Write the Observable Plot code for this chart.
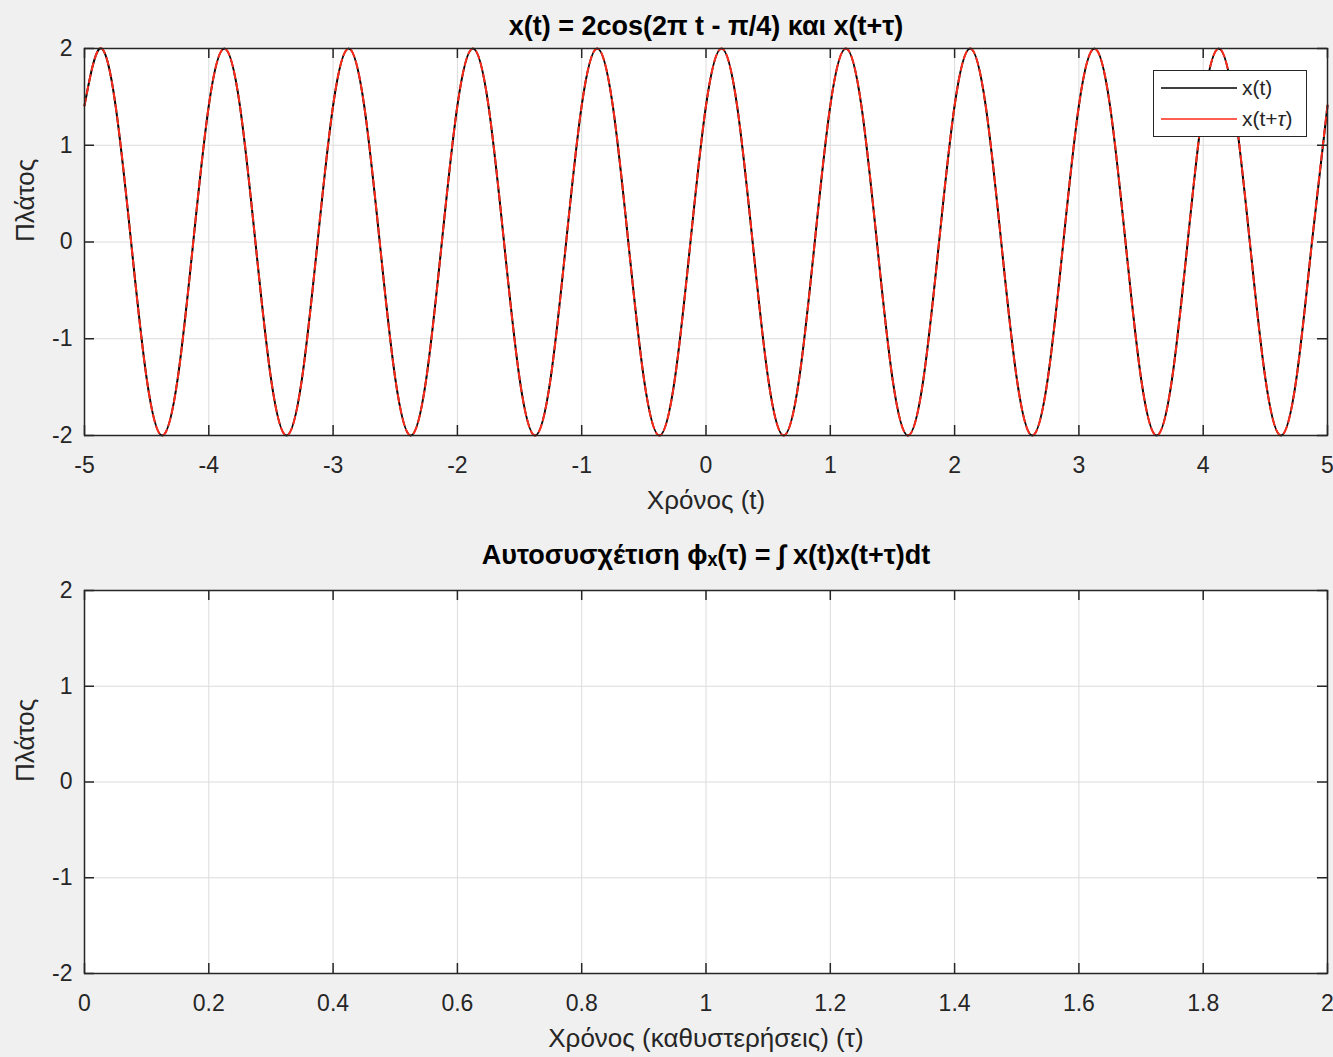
<!DOCTYPE html>
<html>
<head>
<meta charset="utf-8">
<script src="https://cdn.jsdelivr.net/npm/d3@7"></script>
<script src="https://cdn.jsdelivr.net/npm/@observablehq/plot@0.6"></script>
<style>
  body { margin: 0; background: #f0f0f0; }
  #wrap { position: relative; width: 1333px; height: 1057px; font-family: "Liberation Sans", Arial, Helvetica, sans-serif; color: #262626; }
  #top, #bottom { position: absolute; left: 0; }
  #top { top: 0; }
  #bottom { top: 528px; }
  .legend { position: absolute; left: 1153px; top: 70px; width: 152px; height: 65px; background: #fff; border: 1.5px solid #262626; font-size: 21px; }
  .legend .row { position: absolute; left: 0; height: 30px; display: flex; align-items: center; }
  .legend .row svg { margin-left: 7px; margin-right: 5px; }
</style>
</head>
<body>
<div id="wrap">
  <div id="top"></div>
  <div id="bottom"></div>
  <div class="legend">
    <div class="row" style="top:2px"><svg width="76" height="4"><line x1="0" x2="76" y1="2" y2="2" stroke="#000" stroke-width="1.5"/></svg><span>x(t)</span></div>
    <div class="row" style="top:33px"><svg width="76" height="4"><line x1="0" x2="76" y1="2" y2="2" stroke="#ff2a1a" stroke-width="1.5"/></svg><span>x(t+<i>τ</i>)</span></div>
  </div>
</div>
<script>
// ---- data ----
const tSamples = [
  -5, -4.875, -4.75, -4.625, -4.5, -4.375, -4.25, -4.125,
  -4, -3.875, -3.75, -3.625, -3.5, -3.375, -3.25, -3.125,
  -3, -2.875, -2.75, -2.625, -2.5, -2.375, -2.25, -2.125,
  -2, -1.875, -1.75, -1.625, -1.5, -1.375, -1.25, -1.125,
  -1, -0.875, -0.75, -0.625, -0.5, -0.375, -0.25, -0.125,
  0, 0.125, 0.25, 0.375, 0.5, 0.625, 0.75, 0.875,
  1, 1.125, 1.25, 1.375, 1.5, 1.625, 1.75, 1.875,
  2, 2.125, 2.25, 2.375, 2.5, 2.625, 2.75, 2.875,
  3, 3.125, 3.25, 3.375, 3.5, 3.625, 3.75, 3.875,
  4, 4.125, 4.25, 4.375, 4.5, 4.625, 4.75, 4.875,
  5
];
const xValues = [
  1.41, 2, 1.41, 0, -1.41, -2, -1.41, 0,
  1.41, 2, 1.41, 0, -1.41, -2, -1.41, 0,
  1.41, 2, 1.41, 0, -1.41, -2, -1.41, 0,
  1.41, 2, 1.41, 0, -1.41, -2, -1.41, 0,
  1.41, 2, 1.41, 0, -1.41, -2, -1.41, 0,
  1.41, 2, 1.41, 0, -1.41, -2, -1.41, 0,
  1.41, 2, 1.41, 0, -1.41, -2, -1.41, 0,
  1.41, 2, 1.41, 0, -1.41, -2, -1.41, 0,
  1.41, 2, 1.41, 0, -1.41, -2, -1.41, 0,
  1.41, 2, 1.41, 0, -1.41, -2, -1.41, 0,
  1.41
];
const xShiftedValues = [
  1.41, 2, 1.41, 0, -1.41, -2, -1.41, 0,
  1.41, 2, 1.41, 0, -1.41, -2, -1.41, 0,
  1.41, 2, 1.41, 0, -1.41, -2, -1.41, 0,
  1.41, 2, 1.41, 0, -1.41, -2, -1.41, 0,
  1.41, 2, 1.41, 0, -1.41, -2, -1.41, 0,
  1.41, 2, 1.41, 0, -1.41, -2, -1.41, 0,
  1.41, 2, 1.41, 0, -1.41, -2, -1.41, 0,
  1.41, 2, 1.41, 0, -1.41, -2, -1.41, 0,
  1.41, 2, 1.41, 0, -1.41, -2, -1.41, 0,
  1.41, 2, 1.41, 0, -1.41, -2, -1.41, 0,
  1.41
];
const topXTicks = [-5, -4, -3, -2, -1, 0, 1, 2, 3, 4, 5];
const bottomXTicks = [0, 0.2, 0.4, 0.6, 0.8, 1, 1.2, 1.4, 1.6, 1.8, 2];
const yTicks = [-2, -1, 0, 1, 2];
const topTitle = "x(t) = 2cos(2π t - π/4) και x(t+τ)";
const bottomTitle = "Αυτοσυσχέτιση ϕₓ(τ) = ∫ x(t)x(t+τ)dt";
const topXLabel = "Χρόνος (t)";
const bottomXLabel = "Χρόνος (καθυστερήσεις) (τ)";
const yLabel = "Πλάτος";

const FONT = '"Liberation Sans", Arial, Helvetica, sans-serif';
const INK = "#262626";

function axesMarks(xTicks) {
  return [
    Plot.frame({fill: "white", stroke: null}),
    Plot.gridX(xTicks, {x: d => d, stroke: "#dcdcdc", strokeOpacity: 1, strokeWidth: 1}),
    Plot.gridY(yTicks, {y: d => d, stroke: "#dcdcdc", strokeOpacity: 1, strokeWidth: 1}),
  ];
}
function frameMarks(xTicks, plotH, plotW, title, titleDy, xLabel, fmt) {
  const tl = 10;
  return [
    Plot.frame({stroke: INK, strokeWidth: 1.5}),
    Plot.tickX(xTicks, {x: d => d, insetTop: plotH - tl, stroke: INK, strokeWidth: 1.5}),
    Plot.tickX(xTicks, {x: d => d, insetBottom: plotH - tl, stroke: INK, strokeWidth: 1.5}),
    Plot.tickY(yTicks, {y: d => d, insetRight: plotW - tl, stroke: INK, strokeWidth: 1.5}),
    Plot.tickY(yTicks, {y: d => d, insetLeft: plotW - tl, stroke: INK, strokeWidth: 1.5}),
    Plot.axisX(xTicks, {anchor: "bottom", tickSize: 0, tickPadding: 21, label: null, fontSize: 23, tickFormat: fmt, fill: INK}),
    Plot.axisY(yTicks, {anchor: "left", tickSize: 0, tickPadding: 12, label: null, fontSize: 23, tickFormat: d => String(d), fill: INK}),
    Plot.text([title], {text: d => d, frameAnchor: "top", lineAnchor: "middle", dy: titleDy, fontSize: 27, fontWeight: "bold", fill: "#000"}),
    Plot.text([xLabel], {text: d => d, frameAnchor: "bottom", lineAnchor: "middle", dy: 65, fontSize: 26, fill: INK}),
    Plot.text([yLabel], {text: d => d, frameAnchor: "left", lineAnchor: "middle", dx: -59, rotate: -90, fontSize: 26, fill: INK})
  ];
}

const series = tSamples.map((t, i) => ({t, x: xValues[i], xs: xShiftedValues[i]}));

// Top plot
const topPlot = Plot.plot({
  width: 1333, height: 528,
  marginTop: 48, marginBottom: 93, marginLeft: 84, marginRight: 6,
  style: {fontFamily: FONT, fontSize: "23px", color: INK, background: "transparent", overflow: "visible"},
  x: {domain: [-5, 5], axis: null},
  y: {domain: [-2, 2], axis: null},
  marks: [
    ...axesMarks(topXTicks),
    Plot.line(series, {x: "t", y: "x", stroke: "#000", strokeWidth: 2, curve: "natural"}),
    Plot.line(series, {x: "t", y: "xs", stroke: "#ff2a1a", strokeWidth: 2, strokeDasharray: "7,5", curve: "natural"}),
    ...frameMarks(topXTicks, 387, 1243, topTitle, -22, topXLabel, d => String(d))
  ]
});
document.getElementById("top").appendChild(topPlot);

// Bottom plot (empty axes)
const bottomPlot = Plot.plot({
  width: 1333, height: 529,
  marginTop: 62, marginBottom: 84, marginLeft: 84, marginRight: 6,
  style: {fontFamily: FONT, fontSize: "23px", color: INK, background: "transparent", overflow: "visible"},
  x: {domain: [0, 2], axis: null},
  y: {domain: [-2, 2], axis: null},
  marks: [
    ...axesMarks(bottomXTicks),
    ...frameMarks(bottomXTicks, 383, 1243, bottomTitle, -35, bottomXLabel, d => String(+d.toFixed(1)))
  ]
});
document.getElementById("bottom").appendChild(bottomPlot);
</script>
</body>
</html>
